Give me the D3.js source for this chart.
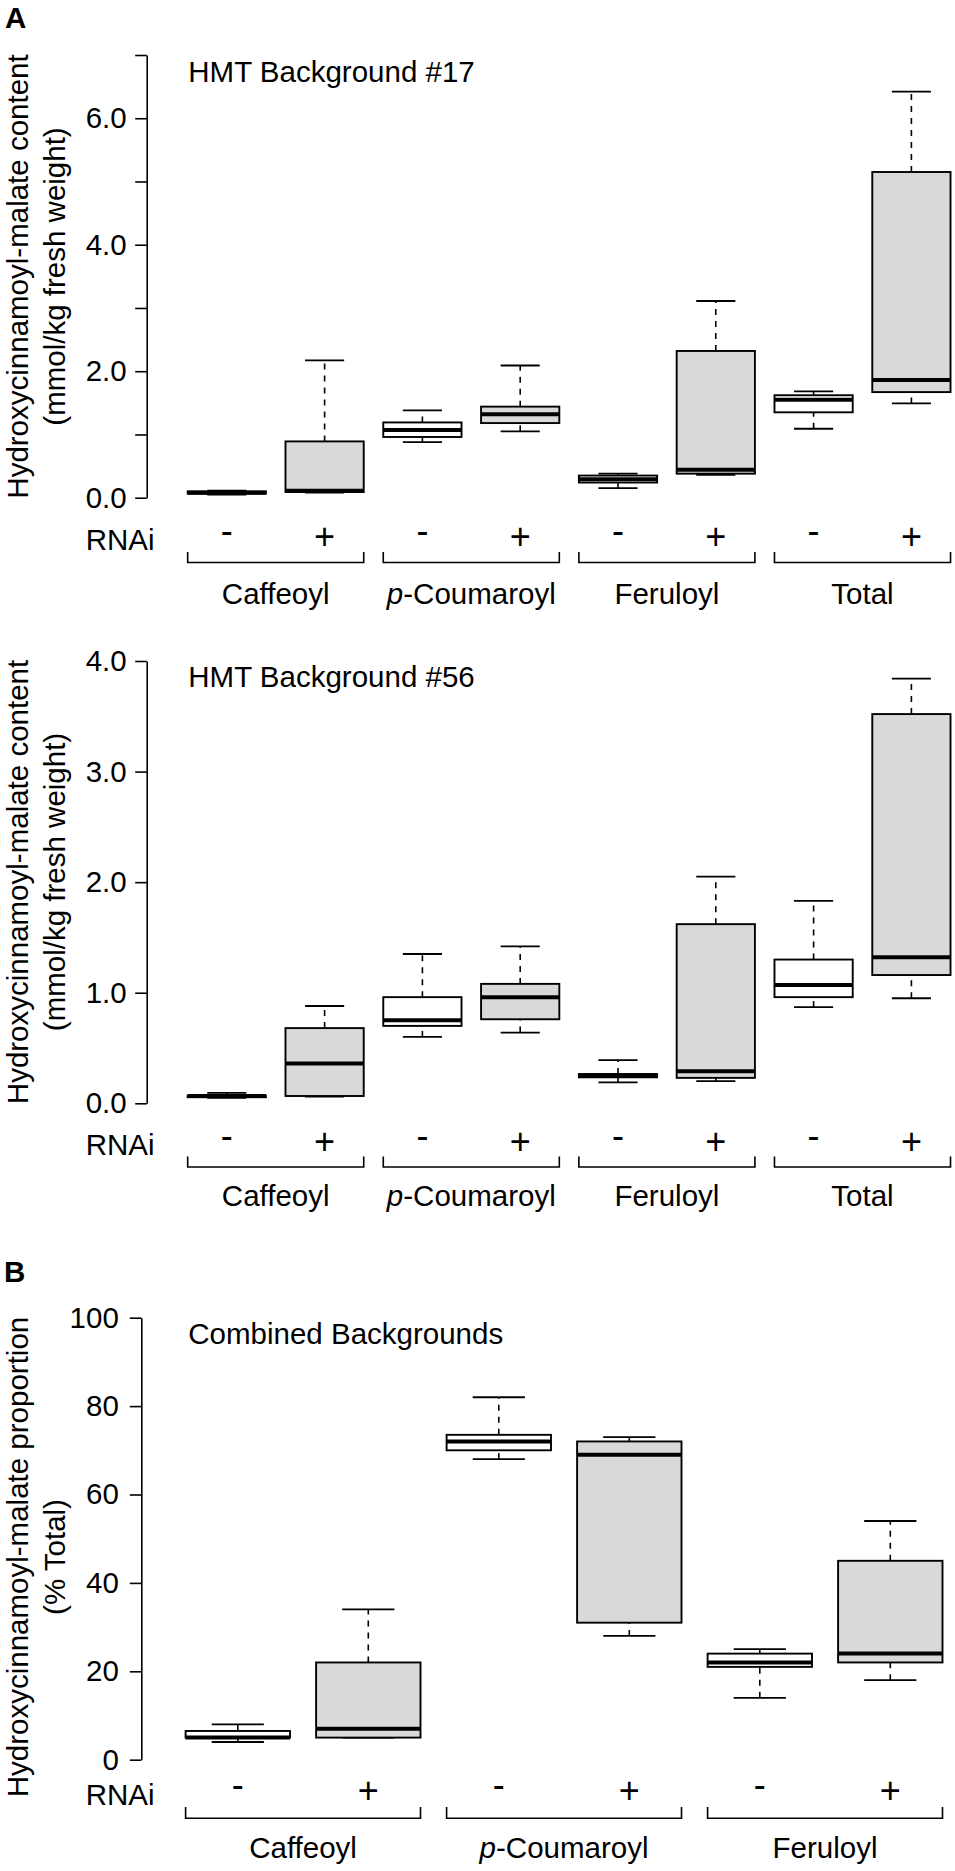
<!DOCTYPE html>
<html>
<head>
<meta charset="utf-8">
<script src="https://cdn.jsdelivr.net/npm/d3@7"></script>
<style>
  body { margin: 0; background: #fff; }
  svg { display: block; }
</style>
</head>
<body>
<div id="root"></div>
<script>
// categories
let groups = ["Caffeoyl", "p-Coumaroyl", "Feruloyl", "Total"];
let groupsB = ["Caffeoyl", "p-Coumaroyl", "Feruloyl"];
let rnai = ["-", "+"];

// box stats per box: [lower whisker, q1, median, q3, upper whisker]
// order: Caffeoyl -, Caffeoyl +, p-Coumaroyl -, p-Coumaroyl +, Feruloyl -, Feruloyl +, Total -, Total +
let bg17 = [
    [0.05, 0.065, 0.08, 0.10, 0.11],
    [0.08, 0.09, 0.11, 0.89, 2.17],
    [0.88, 0.96, 1.07, 1.19, 1.38],
    [1.05, 1.18, 1.32, 1.44, 2.09],
    [0.15, 0.24, 0.29, 0.35, 0.38],
    [0.36, 0.38, 0.44, 2.32, 3.11],
    [1.09, 1.35, 1.55, 1.62, 1.68],
    [1.49, 1.67, 1.86, 5.15, 6.42]
];
let bg56 = [
    [0.05, 0.055, 0.065, 0.07, 0.095],
    [0.06, 0.066, 0.36, 0.68, 0.88],
    [0.60, 0.70, 0.75, 0.96, 1.35],
    [0.64, 0.76, 0.96, 1.08, 1.42],
    [0.19, 0.235, 0.25, 0.265, 0.39],
    [0.20, 0.23, 0.29, 1.62, 2.05],
    [0.87, 0.96, 1.07, 1.30, 1.83],
    [0.95, 1.16, 1.32, 3.52, 3.84]
];
let combined = [
    [4, 5, 5, 6.5, 8],
    [5, 5, 7, 22, 34],
    [68, 70, 72, 73.5, 82],
    [28, 31, 69, 72, 73],
    [14, 21, 22, 24, 25],
    [18, 22, 24, 45, 54]
];

// tick values
let ticks17 = [0, 1, 2, 3, 4, 5, 6, 7];
let ticks56 = [0, 1, 2, 3, 4];
let ticksB = [0, 20, 40, 60, 80, 100];

let FONT = "'Liberation Sans', Arial, Helvetica, sans-serif";
let FS = 29.5;
let grey = "#d9d9d9";

let width = 955, height = 1871;

let svg = d3.select('#root').append('svg')
    .attr('width', width)
    .attr('height', height)
    .style('font-family', FONT);

svg.append('rect').attr('width', width).attr('height', height).attr('fill', '#fff');

function drawPanel(o) {
    let g = svg.append('g');
    let n = o.data.length;

    let x = d3.scaleLinear().domain([1, n]).range([o.xFirst, o.xLast]);
    let step = (o.xLast - o.xFirst) / (n - 1);
    let bw = step * 0.8;
    let y = d3.scaleLinear().domain(o.yDomain).range([o.yBottom, o.yTop]);

    // y axis
    let axis = d3.axisLeft(y)
        .tickValues(o.ticks)
        .tickFormat(o.tickFormat)
        .tickSize(11.5)
        .tickSizeOuter(0)
        .tickPadding(o.tickPadding);
    let ax = g.append('g')
        .attr('transform', 'translate(' + o.axisX + ',0)')
        .call(axis);
    ax.select('.domain').attr('stroke', '#000').attr('stroke-width', 1.6);
    ax.selectAll('.tick line').attr('stroke', '#000').attr('stroke-width', 1.6);
    ax.selectAll('.tick text')
        .attr('fill', '#000')
        .style('font-size', FS + 'px')
        .style('font-family', FONT);

    // y axis title, two lines
    o.ylab.forEach(function (line, i) {
        g.append('text')
            .attr('transform', 'translate(' + [28, 64.5][i] + ',' + o.ylabY + ') rotate(-90)')
            .attr('text-anchor', 'middle')
            .style('font-size', FS + 'px')
            .text(line);
    });

    // panel title
    g.append('text')
        .attr('x', 188.3)
        .attr('y', o.titleY)
        .style('font-size', FS + 'px')
        .text(o.title);

    // boxes
    let box = g.selectAll('.box')
        .data(o.data)
        .enter().append('g')
        .attr('class', 'box')
        .attr('transform', function (d, i) { return 'translate(' + x(i + 1) + ',0)'; });

    // whiskers (dashed)
    box.append('line')
        .attr('x1', 0).attr('x2', 0)
        .attr('y1', function (d) { return y(d[0]); })
        .attr('y2', function (d) { return y(d[1]); })
        .attr('stroke', '#000').attr('stroke-width', 1.6)
        .attr('stroke-dasharray', '6,6');
    box.append('line')
        .attr('x1', 0).attr('x2', 0)
        .attr('y1', function (d) { return y(d[3]); })
        .attr('y2', function (d) { return y(d[4]); })
        .attr('stroke', '#000').attr('stroke-width', 1.6)
        .attr('stroke-dasharray', '6,6');

    // staples
    [0, 4].forEach(function (k) {
        box.append('line')
            .attr('x1', -bw / 4).attr('x2', bw / 4)
            .attr('y1', function (d) { return y(d[k]); })
            .attr('y2', function (d) { return y(d[k]); })
            .attr('stroke', '#000').attr('stroke-width', 1.8);
    });

    box.append('rect')
        .attr('x', -bw / 2)
        .attr('width', bw)
        .attr('y', function (d) { return y(d[3]); })
        .attr('height', function (d) { return Math.max(0, y(d[1]) - y(d[3])); })
        .attr('fill', function (d, i) { return i % 2 === 0 ? '#fff' : grey; })
        .attr('stroke', '#000')
        .attr('stroke-width', 1.9);

    box.append('line')
        .attr('x1', -bw / 2).attr('x2', bw / 2)
        .attr('y1', function (d) { return y(d[2]); })
        .attr('y2', function (d) { return y(d[2]); })
        .attr('stroke', '#000').attr('stroke-width', 4);

    // RNAi row
    g.append('text')
        .attr('x', 154.5)
        .attr('y', o.rnaiY)
        .attr('text-anchor', 'end')
        .style('font-size', FS + 'px')
        .text('RNAi');

    box.append('text')
        .attr('x', 0)
        .attr('y', o.pmY)
        .attr('dy', function (d, i) { return i % 2 === 0 ? -6 : 0; })
        .attr('text-anchor', 'middle')
        .style('font-size', '36px')
        .text(function (d, i) { return rnai[i % 2]; });

    // group brackets and labels
    o.groups.forEach(function (name, gi) {
        let x0 = x(gi * 2 + 1) - bw / 2;
        let x1 = x(gi * 2 + 2) + bw / 2;
        g.append('path')
            .attr('d', 'M' + x0 + ',' + o.brTop + 'V' + o.brBottom + 'H' + x1 + 'V' + o.brTop)
            .attr('fill', 'none')
            .attr('stroke', '#000')
            .attr('stroke-width', 1.6);

        let t = g.append('text')
            .attr('x', (x0 + x1) / 2)
            .attr('y', o.labelY)
            .attr('text-anchor', 'middle')
            .style('font-size', FS + 'px');
        if (name.indexOf('p-') === 0) {
            t.append('tspan').style('font-style', 'italic').text('p');
            t.append('tspan').text(name.slice(1));
        } else {
            t.text(name);
        }
    });
}

// panel letters
svg.append('text').attr('x', 5).attr('y', 28)
    .style('font-size', FS + 'px').style('font-weight', 'bold').text('A');
svg.append('text').attr('x', 4).attr('y', 1282)
    .style('font-size', FS + 'px').style('font-weight', 'bold').text('B');

let ylabContent = ['Hydroxycinnamoyl-malate content', '(mmol/kg fresh weight)'];

drawPanel({
    data: bg17, groups: groups,
    xFirst: 226.8, xLast: 911.4,
    yDomain: [0, 7], yBottom: 497.7, yTop: 55,
    axisX: 146.7, ticks: ticks17, tickPadding: 8.5,
    tickFormat: function (d) { return d % 2 === 0 ? d.toFixed(1) : ''; },
    ylab: ylabContent, ylabY: 276.5,
    title: 'HMT Background #17', titleY: 81.7,
    rnaiY: 550, pmY: 549, brTop: 552, brBottom: 562.5, labelY: 604
});

drawPanel({
    data: bg56, groups: groups,
    xFirst: 226.8, xLast: 911.4,
    yDomain: [0, 4], yBottom: 1103.3, yTop: 661,
    axisX: 146.7, ticks: ticks56, tickPadding: 8.5,
    tickFormat: function (d) { return d.toFixed(1); },
    ylab: ylabContent, ylabY: 882,
    title: 'HMT Background #56', titleY: 686.7,
    rnaiY: 1154.5, pmY: 1153.5, brTop: 1156.5, brBottom: 1167, labelY: 1206
});

drawPanel({
    data: combined, groups: groupsB,
    xFirst: 237.8, xLast: 890.3,
    yDomain: [0, 100], yBottom: 1759.7, yTop: 1317.7,
    axisX: 141.3, ticks: ticksB, tickPadding: 11,
    tickFormat: function (d) { return d; },
    ylab: ['Hydroxycinnamoyl-malate proportion', '(% Total)'], ylabY: 1557,
    title: 'Combined Backgrounds', titleY: 1344,
    rnaiY: 1805, pmY: 1802.8, brTop: 1807, brBottom: 1818.3, labelY: 1858
});
</script>
</body>
</html>
